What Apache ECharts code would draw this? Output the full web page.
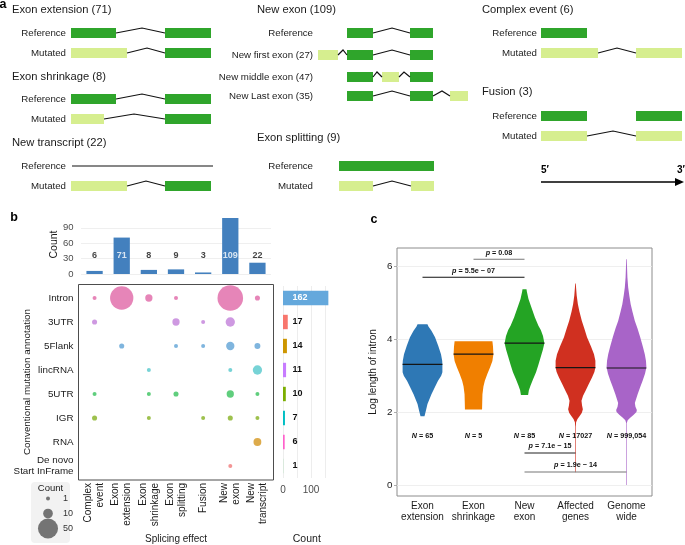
<!DOCTYPE html>
<html><head><meta charset="utf-8">
<script src="https://cdn.jsdelivr.net/npm/echarts@6/dist/echarts.min.js"></script>
<style>html,body{margin:0;padding:0;background:#fff}#c{width:685px;height:545px}</style>
</head><body><div id="c"></div>
<script>
// ================= DATA =================
// Panel a: schematic gene models  [start, end, row, kind(1=reference exon,0=mutated exon)]
const diagramExons = [
  [71,116,33,1],[165,211,33,1],
  [71,127,53,0],[165,211,53,1],
  [71,116,99,1],[165,211,99,1],
  [71,104,119,0],[165,211,119,1],
  [71,127,186,0],[165,211,186,1],
  [347,373,33,1],[410,433,33,1],
  [318,338,55,0],[347,373,55,1],[410,433,55,1],
  [347,373,77,1],[382,399,77,0],[410,433,77,1],
  [347,373,96,1],[410,433,96,1],[450,468,96,0],
  [339,434,166,1],
  [339,373,186,0],[411,434,186,0],
  [541,587,33,1],
  [541,598,53,0],[636,682,53,0],
  [541,587,116,1],[636,682,116,1],
  [541,587,136,0],[636,682,136,0]
];
// introns [start, apex, end, row]
const diagramIntrons = [
  [116,142,165,33],[127,147,165,53],[116,142,165,99],[104,134,165,119],[127,146,165,186],
  [373,392,410,33],[338,343,347,55],[373,392,410,55],[373,377,382,77],[399,404,410,77],
  [373,392,410,96],[433,442,450,96],[373,392,411,186],
  [598,617,636,53],[587,613,636,136]
];
// plain transcript lines [start, end, row]
const diagramLines = [[72,213,166]];

// Panel b
const splicingEffects = ['Complex\nevent','Exon\nextension','Exon\nshrinkage','Exon\nsplitting','Fusion','New\nexon','New\ntranscript'];
const effectCounts = [6,71,8,9,3,109,22];
const effectTicks = [0,30,60,90];
const annotations = ['Intron','3UTR','5Flank','lincRNA','5UTR','IGR','RNA','De novo\nStart InFrame'];
const annotationCounts = [162,17,14,11,10,7,6,1];
const annotationTicks = [0,50,100,150];
// [effect index, annotation index, count]
const bubbleCounts = [
  [0,0,1],[1,0,69],[2,0,5],[3,0,1],[5,0,84],[6,0,2],
  [0,1,2],[3,1,5],[4,1,1],[5,1,9],
  [1,2,2],[3,2,1],[4,2,1],[5,2,7],[6,2,3],
  [2,3,1],[5,3,1],[6,3,9],
  [0,4,1],[2,4,1],[3,4,2],[5,4,5],[6,4,1],
  [0,5,2],[2,5,1],[4,5,1],[5,5,2],[6,5,1],
  [6,6,6],
  [5,7,1]
];
const legendCounts = [1,10,50];

// Panel c
const violinGroups = ['Exon\nextension','Exon\nshrinkage','New\nexon','Affected\ngenes','Genome\nwide'];
const violinMedians = [3.31,3.59,3.89,3.22,3.21];
const violinN = ['65','5','85','17027','999,054'];
const yTicksC = [0,2,4,6];
// [log intron length, relative density]
const densExonExtension = [[1.89,0.1],[2.04,0.17],[2.22,0.25],[2.49,0.45],[2.68,0.62],[2.86,0.78],[3.0,0.94],[3.09,1.0],[3.31,1.0],[3.41,0.99],[3.59,0.93],[3.82,0.79],[4.05,0.63],[4.23,0.45],[4.35,0.3],[4.41,0.25]];
const densExonShrinkage = [[2.07,0.43],[2.3,0.44],[2.49,0.45],[2.7,0.5],[2.86,0.57],[3.05,0.7],[3.22,0.83],[3.4,0.95],[3.59,1.0],[3.8,0.98],[3.94,0.95]];
const densNewExon = [[2.47,0.18],[2.6,0.22],[2.72,0.3],[2.9,0.43],[3.09,0.58],[3.3,0.7],[3.54,0.83],[3.7,0.92],[3.89,1.0],[4.09,0.93],[4.25,0.82],[4.37,0.7],[4.6,0.52],[4.82,0.38],[5.1,0.2],[5.3,0.12],[5.37,0.1]];
const densAffectedGenes = [[0.35,0.015],[1.6,0.015],[1.72,0.03],[1.81,0.1],[1.9,0.22],[1.98,0.32],[2.08,0.37],[2.18,0.33],[2.31,0.3],[2.45,0.38],[2.58,0.5],[2.75,0.65],[2.95,0.83],[3.1,0.95],[3.22,1.0],[3.41,1.0],[3.59,0.93],[3.8,0.78],[4.05,0.58],[4.3,0.44],[4.5,0.32],[4.75,0.2],[4.96,0.12],[5.2,0.06],[5.4,0.03],[5.53,0.015]];
const densGenomeWide = [[0,0.015],[1.7,0.015],[1.78,0.06],[1.85,0.2],[1.92,0.35],[2.0,0.5],[2.06,0.52],[2.15,0.45],[2.25,0.42],[2.49,0.56],[2.7,0.7],[2.86,0.81],[3.05,0.93],[3.22,1.0],[3.4,0.98],[3.59,0.92],[3.8,0.82],[4.05,0.69],[4.3,0.55],[4.5,0.42],[4.75,0.3],[4.96,0.21],[5.2,0.14],[5.42,0.085],[5.7,0.045],[6.0,0.025],[6.19,0.015]];
const violinDensities = [densExonExtension,densExonShrinkage,densNewExon,densAffectedGenes,densGenomeWide];
// pairwise tests [group a, group b]
const pTests = [[1,2],[0,2],[2,3],[2,4]];
const pLabels = ['0.08','5.5e \u2212 07','7.1e \u2212 15','1.9e \u2212 14'];

// ================= STYLE / LAYOUT =================
const FONT = "'Liberation Sans', Arial, Helvetica, sans-serif";
const DARK_EXON = '#2FA52B', LIGHT_EXON = '#D6EE8F';
const EXON_H = 10, INTRON_RISE = 5;
const annotationDotColors = ['#E066A6','#C27FD9','#5FA2D6','#55C8CC','#38C25C','#86B222','#D4961E','#F07A7A'];
const annotationBarColors = ['#64A8DC','#F8766D','#CD9600','#C77CFF','#7CAE00','#00BFC4','#FF61CC','#A8DDB5'];
const violinColors = ['#2E78B5','#F07F00','#24A424','#D03020','#A864C8'];
const bracketLevels = [6.19,5.70,0.88,0.36];
const bracketColors = ['#777','#111','#222','#777'];
const N_LABEL_Y = 1.34, TOP_LABEL_Y = 37, VIOLIN_HALF = 0.39;
const bubbleDiameter = c => 2.64*Math.sqrt(c)+1.36;

function gtext(x, y, text, o) {
  o = o || {};
  return {type:'text', x:x, y:y, z:10, style:{text:text, fontFamily:FONT, fontSize:o.fontSize||9.7,
    fontWeight:o.fontWeight||'normal', fill:o.fill||'#222', align:o.align||'right', verticalAlign:'middle'}};
}
const graphics = [
  gtext(3,5,'a',{fontSize:12.5,fontWeight:'bold',align:'center',fill:'#000'}),
  gtext(14,218,'b',{fontSize:12.5,fontWeight:'bold',align:'center',fill:'#000'}),
  gtext(374,220,'c',{fontSize:12.5,fontWeight:'bold',align:'center',fill:'#000'}),
  gtext(12,10,'Exon extension (71)',{fontSize:11.2,align:'left',fill:'#1a1a1a'}),
  gtext(12,77,'Exon shrinkage (8)',{fontSize:11.2,align:'left',fill:'#1a1a1a'}),
  gtext(12,143,'New transcript (22)',{fontSize:11.2,align:'left',fill:'#1a1a1a'}),
  gtext(257,10,'New exon (109)',{fontSize:11.2,align:'left',fill:'#1a1a1a'}),
  gtext(257,138,'Exon splitting (9)',{fontSize:11.2,align:'left',fill:'#1a1a1a'}),
  gtext(482,10,'Complex event (6)',{fontSize:11.2,align:'left',fill:'#1a1a1a'}),
  gtext(482,92,'Fusion (3)',{fontSize:11.2,align:'left',fill:'#1a1a1a'}),
  gtext(66,33,'Reference'), gtext(66,53,'Mutated'),
  gtext(66,99,'Reference'), gtext(66,119,'Mutated'),
  gtext(66,166,'Reference'), gtext(66,186,'Mutated'),
  gtext(313,33,'Reference'), gtext(313,55,'New first exon (27)'),
  gtext(313,77,'New middle exon (47)'), gtext(313,96,'New Last exon (35)'),
  gtext(313,166,'Reference'), gtext(313,186,'Mutated'),
  gtext(537,33,'Reference'), gtext(537,53,'Mutated'),
  gtext(537,116,'Reference'), gtext(537,136,'Mutated'),
  gtext(541,170,'5\u2032',{fontSize:10,fontWeight:'bold',align:'left',fill:'#000'}),
  gtext(685,170,'3\u2032',{fontSize:10,fontWeight:'bold',align:'right',fill:'#000'}),
  {type:'line', shape:{x1:541,y1:182,x2:677,y2:182}, style:{stroke:'#000',lineWidth:1.3}},
  {type:'polygon', shape:{points:[[684,182],[675,178],[675,186]]}, style:{fill:'#000'}},
  {type:'rect', z:0, shape:{x:78.5,y:284.5,width:195,height:195.5}, style:{fill:'none',stroke:'#4d4d4d',lineWidth:1}},
  {type:'rect', z:0, shape:{x:31,y:482,width:39,height:61,r:4}, style:{fill:'#f2f2f2'}},
  gtext(50.5,488,'Count',{fontSize:9.5,align:'center',fill:'#1a1a1a'})
];

function densAt(dens, y) {
  for (let k=0;k<dens.length-1;k++){
    const a=dens[k], b=dens[k+1];
    if (y>=a[0] && y<=b[0]) return a[1]+(b[1]-a[1])*(y-a[0])/(b[0]-a[0]);
  }
  return 0;
}

const option = {
  animation:false,
  backgroundColor:'#fff',
  textStyle:{fontFamily:FONT},
  grid:[
    {left:0, top:0, width:685, height:200, containLabel:false, outerBoundsMode:'none'},
    {left:81, top:215, width:190, height:59, containLabel:false, outerBoundsMode:'none'},
    {left:81, top:286, width:190, height:192, containLabel:false, outerBoundsMode:'none'},
    {left:283, top:286, width:47.6, height:192, containLabel:false, outerBoundsMode:'none'},
    {left:40, top:491, width:16, height:45, containLabel:false, outerBoundsMode:'none'},
    {left:397, top:248, width:255, height:248, show:true, borderColor:'#8c8c8c', borderWidth:1, containLabel:false, outerBoundsMode:'none'}
  ],
  xAxis:[
    {gridIndex:0, type:'value', min:0, max:685, show:false},
    {gridIndex:1, type:'category', data:splicingEffects, show:false},
    {gridIndex:2, type:'category', data:splicingEffects, axisLine:{show:false}, axisTick:{show:false}, splitLine:{show:false},
      axisLabel:{interval:0, rotate:90, margin:5, fontSize:10, lineHeight:12, color:'#1a1a1a'},
      name:'Splicing effect', nameLocation:'middle', nameGap:56, nameMoveOverlap:false, nameTextStyle:{fontSize:10, color:'#1a1a1a'}},
    {gridIndex:3, type:'value', min:0, max:170, axisLine:{show:false},
      axisTick:{show:false, customValues:annotationTicks},
      axisLabel:{customValues:[0,100], margin:7, fontSize:10, color:'#4d4d4d'},
      splitLine:{show:true, lineStyle:{color:'#e8e8e8', width:0.8}},
      name:'Count', nameLocation:'middle', nameGap:56, nameMoveOverlap:false, nameTextStyle:{fontSize:10.5, color:'#1a1a1a'}},
    {gridIndex:4, type:'category', data:[''], show:false},
    {gridIndex:5, type:'category', data:violinGroups, axisLine:{show:false}, axisTick:{show:false}, splitLine:{show:false},
      axisLabel:{interval:0, margin:5, fontSize:10, lineHeight:11, color:'#1a1a1a'}}
  ],
  yAxis:[
    {gridIndex:0, type:'value', min:0, max:200, inverse:true, show:false},
    {gridIndex:1, type:'value', min:0, max:115, axisLine:{show:false},
      axisTick:{show:false, customValues:effectTicks},
      axisLabel:{customValues:effectTicks, margin:7.5, fontSize:9.5, color:'#4d4d4d'},
      splitLine:{show:true, lineStyle:{color:'#ebebeb', width:0.8}},
      name:'Count', nameLocation:'middle', nameGap:21.5, nameMoveOverlap:false, nameTextStyle:{fontSize:10.5, color:'#1a1a1a'}},
    {gridIndex:2, type:'category', data:annotations, inverse:true, axisLine:{show:false}, axisTick:{show:false}, splitLine:{show:false},
      axisLabel:{interval:0, margin:7.5, fontSize:9.8, lineHeight:11, color:'#1a1a1a'},
      name:'Conventional mutation annotation', nameLocation:'middle', nameGap:49, nameMoveOverlap:false, nameTextStyle:{fontSize:9.8, color:'#1a1a1a'}},
    {gridIndex:3, type:'category', data:annotations, inverse:true, show:false},
    {gridIndex:4, type:'category', data:legendCounts.map(String), inverse:true, position:'right',
      axisLine:{show:false}, axisTick:{show:false}, splitLine:{show:false},
      axisLabel:{margin:7, fontSize:9, color:'#333', align:'left'}},
    {gridIndex:5, type:'value', min:-0.3, max:6.5, axisLine:{show:false},
      axisTick:{show:true, length:3, customValues:yTicksC, lineStyle:{color:'#999', width:0.8}},
      axisLabel:{customValues:yTicksC, margin:4.5, fontSize:9.8, color:'#1a1a1a'},
      splitLine:{show:true, lineStyle:{color:'#ebebeb', width:0.8}},
      name:'Log length of intron', nameLocation:'middle', nameGap:19, nameMoveOverlap:false, nameTextStyle:{fontSize:10, color:'#1a1a1a'}}
  ],
  graphic:graphics,
  series:[
    // ---- panel a ----
    {type:'custom', xAxisIndex:0, yAxisIndex:0, data:diagramExons, silent:true,
      renderItem:function(params, api){
        const p0 = api.coord([api.value(0), api.value(2)]);
        const p1 = api.coord([api.value(1), api.value(2)]);
        const h = Math.abs(api.size([0, EXON_H])[1]);
        return {type:'rect', shape:{x:p0[0], y:p0[1]-h/2, width:p1[0]-p0[0], height:h},
          style:{fill: api.value(3) ? DARK_EXON : LIGHT_EXON}};
      }},
    {type:'custom', xAxisIndex:0, yAxisIndex:0, data:diagramIntrons, silent:true,
      renderItem:function(params, api){
        const y = api.value(3);
        const a = api.coord([api.value(0), y]);
        const b = api.coord([api.value(1), y - INTRON_RISE]);
        const c = api.coord([api.value(2), y]);
        return {type:'polyline', shape:{points:[a,b,c]}, style:{stroke:'#111', lineWidth:1.2, fill:null}};
      }},
    {type:'custom', xAxisIndex:0, yAxisIndex:0, data:diagramLines, silent:true,
      renderItem:function(params, api){
        const a = api.coord([api.value(0), api.value(2)]);
        const b = api.coord([api.value(1), api.value(2)]);
        return {type:'line', shape:{x1:a[0],y1:a[1],x2:b[0],y2:b[1]}, style:{stroke:'#111', lineWidth:1.2}};
      }},
    // ---- panel b top bars ----
    {type:'bar', xAxisIndex:1, yAxisIndex:1, data:effectCounts, barWidth:'60%', itemStyle:{color:'#4380BE'}, silent:true},
    {type:'scatter', xAxisIndex:1, yAxisIndex:1, silent:true, symbolSize:1, itemStyle:{color:'rgba(0,0,0,0)'},
      data: effectCounts.map((v,i)=>({value:[i, TOP_LABEL_Y], label:{color: v>TOP_LABEL_Y ? '#fff' : '#111'}})),
      label:{show:true, position:'inside', fontSize:9, fontWeight:'bold', formatter:p=>String(effectCounts[p.dataIndex])}},
    // ---- bubbles ----
    {type:'scatter', xAxisIndex:2, yAxisIndex:2, silent:true,
      data: bubbleCounts.map(d=>({value:d, itemStyle:{color:annotationDotColors[d[1]]}})),
      symbolSize: v=>bubbleDiameter(v[2])},
    // ---- right bars ----
    {type:'bar', xAxisIndex:3, yAxisIndex:3, barWidth:'60%', silent:true,
      data: annotationCounts.map((v,i)=>({value:v, itemStyle:{color:annotationBarColors[i]}, label:{color: i===0 ? '#fff' : '#111'}})),
      label:{show:true, position:[9.5,'50%'], align:'left', verticalAlign:'middle', fontSize:9, fontWeight:'bold'}},
    // ---- size legend ----
    {type:'scatter', xAxisIndex:4, yAxisIndex:4, silent:true, itemStyle:{color:'#666', opacity:0.9},
      data: legendCounts.map((c,i)=>[0,i,c]), symbolSize: v=>bubbleDiameter(v[2])},
    // ---- panel c violins ----
    {type:'custom', xAxisIndex:5, yAxisIndex:5, silent:true, data: violinGroups.map((g,i)=>[i]),
      renderItem:function(params, api){
        const i = api.value(0);
        const dens = violinDensities[i];
        const band = api.size([1,0])[0];
        const maxHalf = band*VIOLIN_HALF;
        const right=[], left=[];
        dens.forEach(function(d){
          const p = api.coord([i, d[0]]);
          right.push([p[0]+d[1]*maxHalf, p[1]]);
          left.unshift([p[0]-d[1]*maxHalf, p[1]]);
        });
        const m = api.coord([i, violinMedians[i]]);
        const hw = densAt(dens, violinMedians[i])*maxHalf;
        return {type:'group', children:[
          {type:'polygon', shape:{points:right.concat(left)}, style:{fill:violinColors[i]}},
          {type:'line', shape:{x1:m[0]-hw, y1:m[1], x2:m[0]+hw, y2:m[1]}, style:{stroke:'#151515', lineWidth:1.2}}
        ]};
      }},
    {type:'custom', xAxisIndex:5, yAxisIndex:5, silent:true, data: violinN.map((n,i)=>[i]),
      renderItem:function(params, api){
        const p = api.coord([api.value(0), N_LABEL_Y]);
        return {type:'text', x:p[0], y:p[1], style:{text:'{i|N} = '+violinN[params.dataIndex],
          rich:{i:{fontStyle:'italic', fontWeight:'bold', fontSize:7.2, fill:'#111'}},
          fontSize:7.2, fontWeight:'bold', fill:'#111', align:'center', verticalAlign:'middle', fontFamily:FONT}};
      }},
    {type:'custom', xAxisIndex:5, yAxisIndex:5, silent:true, data: pTests,
      renderItem:function(params, api){
        const k = params.dataIndex, lvl = bracketLevels[k];
        const a = api.coord([api.value(0), lvl]);
        const b = api.coord([api.value(1), lvl]);
        return {type:'group', children:[
          {type:'line', shape:{x1:a[0], y1:a[1], x2:b[0], y2:b[1]}, style:{stroke:bracketColors[k], lineWidth:1.1}},
          {type:'text', x:(a[0]+b[0])/2, y:a[1]-6.5, style:{text:'{i|p} = '+pLabels[k],
            rich:{i:{fontStyle:'italic', fontWeight:'bold', fontSize:7.2, fill:'#111'}},
            fontSize:7.2, fontWeight:'bold', fill:'#111', align:'center', verticalAlign:'middle', fontFamily:FONT}}
        ]};
      }}
  ]
};
const chart = echarts.init(document.getElementById('c'), null, {renderer:'canvas'});
chart.setOption(option);
</script>
</body></html>
